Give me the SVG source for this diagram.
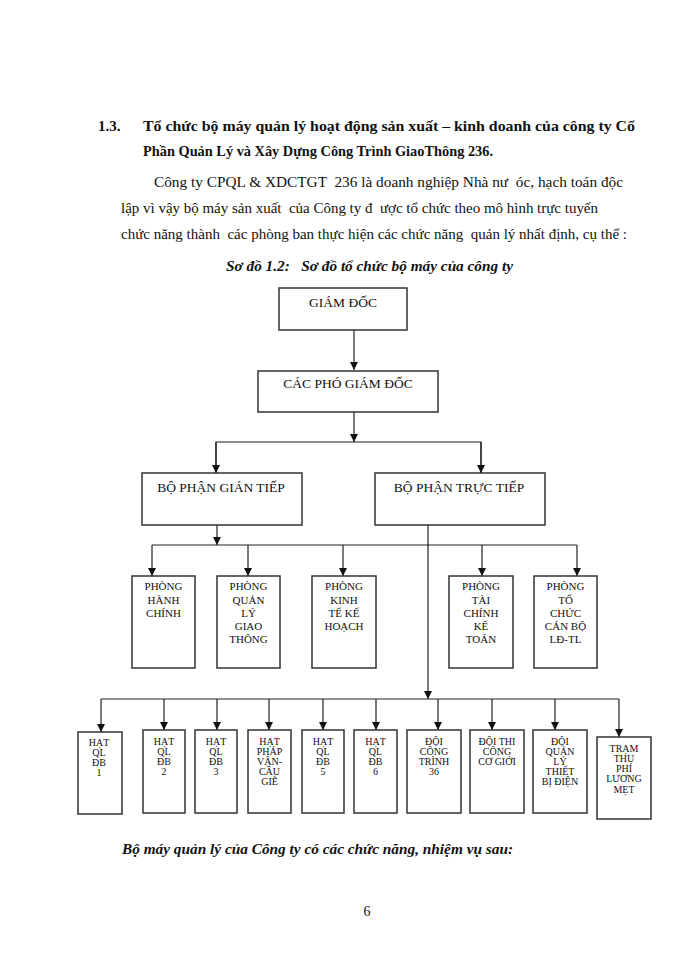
<svg xmlns="http://www.w3.org/2000/svg" width="700" height="960" viewBox="0 0 700 960">
<defs>
<marker id="ah" markerUnits="userSpaceOnUse" markerWidth="8" markerHeight="8" refX="8" refY="4" orient="auto">
<path d="M0,0 L8,4 L0,8 z" fill="#111"/>
</marker>
<style>
text{font-family:"Liberation Serif","Times New Roman",serif;fill:#111}
.h{font-size:15px;font-weight:bold}
.p{font-size:14px}
.cap{font-size:14px;font-weight:bold;font-style:italic}
.b{fill:#fff;stroke:#333;stroke-width:1.5}
.t1{font-size:13.5px;text-anchor:middle}
.t2{font-size:11px;text-anchor:middle}
.t3{font-size:10px;text-anchor:middle}
.c{fill:none;stroke:#222;stroke-width:1.2}
.a{marker-end:url(#ah)}
</style>
</defs>
<rect width="700" height="960" fill="#fff"/>
<text class="h" x="98" y="131">1.3.</text>
<text class="h" x="143" y="131" textLength="492" lengthAdjust="spacingAndGlyphs">Tổ chức bộ máy quản lý hoạt động sản xuất – kinh doanh của công ty Cổ</text>
<text class="h" x="143" y="156" textLength="350" lengthAdjust="spacingAndGlyphs">Phần Quản Lý và Xây Dựng Công Trình GiaoThông 236.</text>
<text class="p" x="154" y="187" xml:space="preserve" textLength="469" lengthAdjust="spacingAndGlyphs">Công ty CPQL &amp; XDCTGT  236 là doanh nghiệp Nhà nư  óc, hạch toán độc</text>
<text class="p" x="121" y="213" xml:space="preserve" textLength="477" lengthAdjust="spacingAndGlyphs">lập vì vậy bộ máy sản xuất  của Công ty đ  ược tổ chức theo mô hình trực tuyến</text>
<text class="p" x="121" y="239" xml:space="preserve" textLength="506" lengthAdjust="spacingAndGlyphs">chức năng thành  các phòng ban thực hiện các chức năng  quản lý nhất định, cụ thể :</text>
<text class="cap" x="226" y="271" xml:space="preserve" textLength="287" lengthAdjust="spacingAndGlyphs">Sơ đồ 1.2:   Sơ đồ tổ chức bộ máy của công ty</text>

<g id="connectors">
<line class="c a" x1="354" y1="330" x2="354" y2="370"/>
<line class="c a" x1="354" y1="412" x2="354" y2="442"/>
<polyline class="c" points="216,473 216,442 481,442 481,473"/>
<line class="c a" x1="216" y1="442" x2="216" y2="473"/>
<line class="c a" x1="481" y1="442" x2="481" y2="473"/>
<line class="c a" x1="217" y1="525" x2="217" y2="545"/>
<line class="c" x1="152" y1="545" x2="577" y2="545"/>
<line class="c a" x1="152" y1="545" x2="152" y2="576"/>
<line class="c a" x1="248" y1="545" x2="248" y2="576"/>
<line class="c a" x1="343" y1="545" x2="343" y2="576"/>
<line class="c a" x1="482" y1="545" x2="482" y2="576"/>
<line class="c a" x1="577" y1="545" x2="577" y2="576"/>
<line class="c a" x1="428" y1="525" x2="428" y2="699"/>
<line class="c" x1="101" y1="699" x2="619" y2="699"/>
<line class="c a" x1="101" y1="699" x2="101" y2="732"/>
<line class="c a" x1="164" y1="699" x2="164" y2="730"/>
<line class="c a" x1="217" y1="699" x2="217" y2="730"/>
<line class="c a" x1="269" y1="699" x2="269" y2="730"/>
<line class="c a" x1="323" y1="699" x2="323" y2="730"/>
<line class="c a" x1="376" y1="699" x2="376" y2="730"/>
<line class="c a" x1="438" y1="699" x2="438" y2="730"/>
<line class="c a" x1="492" y1="699" x2="492" y2="730"/>
<line class="c a" x1="555" y1="699" x2="555" y2="730"/>
<line class="c a" x1="619" y1="699" x2="619" y2="737"/>
</g>

<g id="giam-doc"><rect class="b" x="279" y="288" width="128" height="42"/><text class="t1" x="343" y="307">GIÁM ĐỐC</text></g>
<g id="pho-giam-doc"><rect class="b" x="258" y="371" width="180" height="41"/><text class="t1" x="348" y="388">CÁC PHÓ GIÁM ĐỐC</text></g>
<g id="gian-tiep"><rect class="b" x="142" y="473" width="160" height="52"/><text class="t1" x="221" y="492">BỘ PHẬN GIÁN TIẾP</text></g>
<g id="truc-tiep"><rect class="b" x="375" y="473" width="170" height="52"/><text class="t1" x="459" y="492">BỘ PHẬN TRỰC TIẾP</text></g>

<g id="p-hanh-chinh"><rect class="b" x="132" y="576" width="63" height="92"/>
<text class="t2" x="163.5" y="590">PHÒNG</text><text class="t2" x="163.5" y="604">HÀNH</text><text class="t2" x="163.5" y="617">CHÍNH</text></g>
<g id="p-quan-ly-gt"><rect class="b" x="217" y="576" width="63" height="92"/>
<text class="t2" x="248.5" y="590">PHÒNG</text><text class="t2" x="248.5" y="604">QUẢN</text><text class="t2" x="248.5" y="617">LÝ</text><text class="t2" x="248.5" y="630">GIAO</text><text class="t2" x="248.5" y="643">THÔNG</text></g>
<g id="p-kinh-te"><rect class="b" x="312" y="576" width="64" height="92"/>
<text class="t2" x="344" y="590">PHÒNG</text><text class="t2" x="344" y="604">KINH</text><text class="t2" x="344" y="617">TẾ KẾ</text><text class="t2" x="344" y="630">HOẠCH</text></g>
<g id="p-tai-chinh"><rect class="b" x="449" y="576" width="64" height="92"/>
<text class="t2" x="481" y="590">PHÒNG</text><text class="t2" x="481" y="604">TÀI</text><text class="t2" x="481" y="617">CHÍNH</text><text class="t2" x="481" y="630">KẾ</text><text class="t2" x="481" y="643">TOÁN</text></g>
<g id="p-to-chuc"><rect class="b" x="534" y="576" width="63" height="92"/>
<text class="t2" x="565.5" y="590">PHÒNG</text><text class="t2" x="565.5" y="604">TỔ</text><text class="t2" x="565.5" y="617">CHỨC</text><text class="t2" x="565.5" y="630">CÁN BỘ</text><text class="t2" x="565.5" y="643">LĐ-TL</text></g>

<g id="hat1"><rect class="b" x="78" y="732" width="44" height="82"/>
<text class="t3" x="99" y="746">HẠT</text><text class="t3" x="99" y="756">QL</text><text class="t3" x="99" y="766">ĐB</text><text class="t3" x="99" y="776">1</text></g>
<g id="hat2"><rect class="b" x="143" y="730" width="42" height="83"/>
<text class="t3" x="164" y="745">HẠT</text><text class="t3" x="164" y="755">QL</text><text class="t3" x="164" y="765">ĐB</text><text class="t3" x="164" y="775">2</text></g>
<g id="hat3"><rect class="b" x="195" y="730" width="42" height="83"/>
<text class="t3" x="216" y="745">HẠT</text><text class="t3" x="216" y="755">QL</text><text class="t3" x="216" y="765">ĐB</text><text class="t3" x="216" y="775">3</text></g>
<g id="hat-phap-van"><rect class="b" x="248" y="730" width="43" height="83"/>
<text class="t3" x="269.5" y="745">HẠT</text><text class="t3" x="269.5" y="755">PHÁP</text><text class="t3" x="269.5" y="765">VÂN-</text><text class="t3" x="269.5" y="775">CẦU</text><text class="t3" x="269.5" y="785">GIẼ</text></g>
<g id="hat5"><rect class="b" x="302" y="730" width="42" height="83"/>
<text class="t3" x="323" y="745">HẠT</text><text class="t3" x="323" y="755">QL</text><text class="t3" x="323" y="765">ĐB</text><text class="t3" x="323" y="775">5</text></g>
<g id="hat6"><rect class="b" x="354" y="730" width="43" height="83"/>
<text class="t3" x="375.5" y="745">HẠT</text><text class="t3" x="375.5" y="755">QL</text><text class="t3" x="375.5" y="765">ĐB</text><text class="t3" x="375.5" y="775">6</text></g>
<g id="doi-cong-trinh"><rect class="b" x="407" y="730" width="54" height="83"/>
<text class="t3" x="434" y="745">ĐỘI</text><text class="t3" x="434" y="755">CÔNG</text><text class="t3" x="434" y="765">TRÌNH</text><text class="t3" x="434" y="775">36</text></g>
<g id="doi-thi-cong"><rect class="b" x="470" y="730" width="54" height="83"/>
<text class="t3" x="497" y="745">ĐỘI THI</text><text class="t3" x="497" y="755">CÔNG</text><text class="t3" x="497" y="765">CƠ GIỚI</text></g>
<g id="doi-quan-ly"><rect class="b" x="533" y="730" width="54" height="83"/>
<text class="t3" x="560" y="745">ĐỘI</text><text class="t3" x="560" y="755">QUẢN</text><text class="t3" x="560" y="765">LÝ</text><text class="t3" x="560" y="775">THIẾT</text><text class="t3" x="560" y="785">BỊ ĐIỆN</text></g>
<g id="tram-thu-phi"><rect class="b" x="597" y="737" width="54" height="82"/>
<text class="t3" x="624" y="752">TRẠM</text><text class="t3" x="624" y="762">THU</text><text class="t3" x="624" y="772">PHÍ</text><text class="t3" x="624" y="782">LƯƠNG</text><text class="t3" x="624" y="793">MẸT</text></g>

<text class="cap" x="122" y="854" textLength="391" lengthAdjust="spacingAndGlyphs">Bộ máy quản lý của Công ty có các chức năng, nhiệm vụ sau:</text>
<text class="p" x="367" y="916" text-anchor="middle">6</text>
</svg>
